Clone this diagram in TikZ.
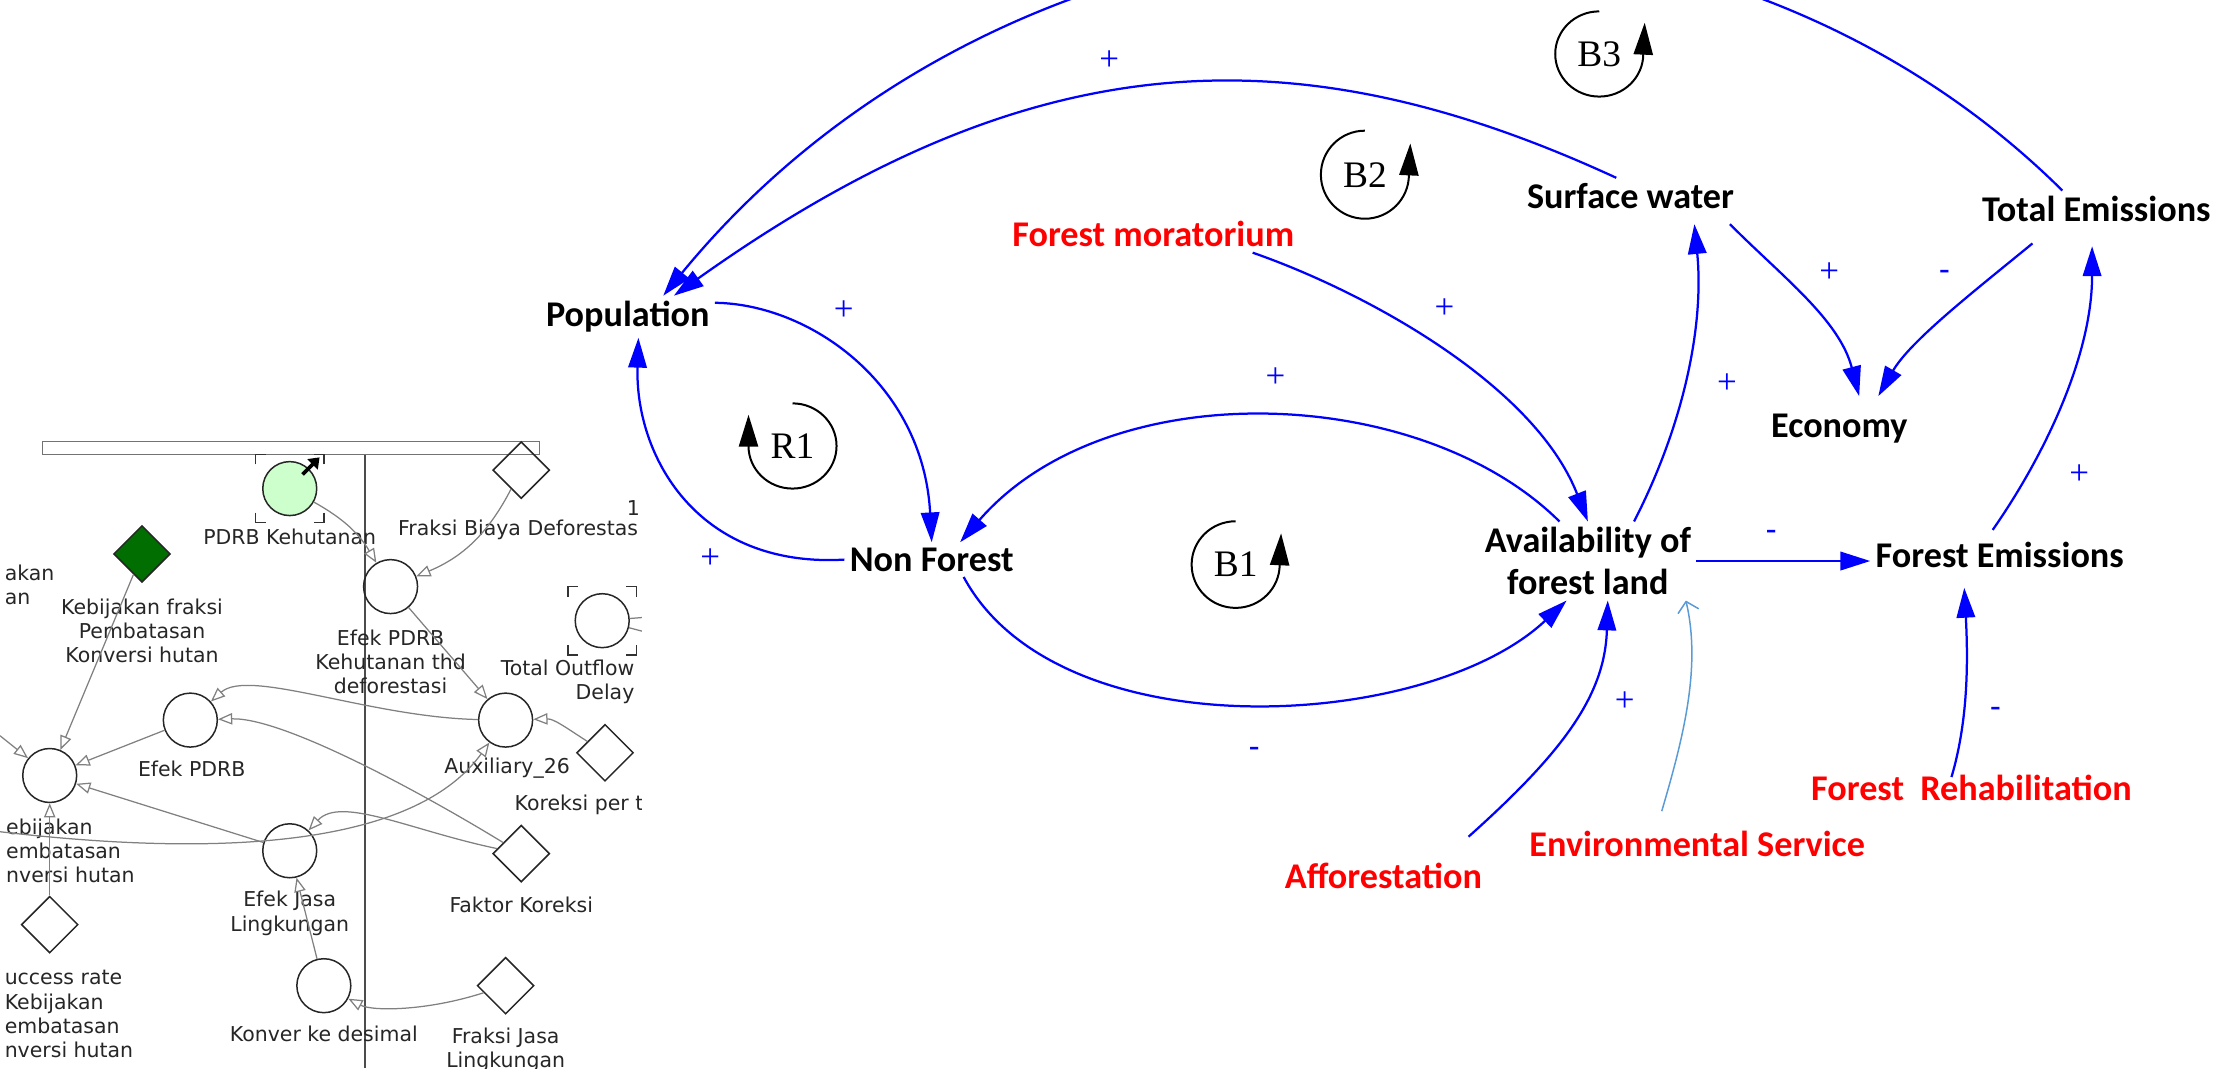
\documentclass[tikz,border=0pt]{standalone}
\usepackage{fontspec}
\usetikzlibrary{arrows.meta,shapes.geometric}
\newfontfamily\carlito{Carlito}
\newfontfamily\timesr{Liberation Serif}
\newfontfamily\vensim{DejaVu Sans}
\definecolor{linkblue}{RGB}{0,0,255}
\definecolor{envblue}{HTML}{5B9BD5}
\definecolor{vgreen}{HTML}{CCFFCC}
\definecolor{vdgreen}{HTML}{006E00}
\tikzset{
  cvar/.style={font=\carlito\bfseries\fontsize{14.5}{17}\selectfont, align=center, inner sep=2pt},
  exovar/.style={cvar, text=red},
  cldlink/.style={linkblue, line width=0.9pt, -{Triangle[length=0.42cm,width=0.26cm]}},
  envlink/.style={envblue, line width=0.6pt, -{Straight Barb[length=0.14cm,width=0.3cm]}},
  polsign/.style={text=linkblue, inner sep=0pt, font=\timesr\fontsize{14}{14}\selectfont},
  polneg/.style={text=linkblue, inner sep=0pt, font=\carlito\fontsize{14}{14}\selectfont},
  loopmark/.style={line width=0.8pt, -{Triangle[length=0.45cm,width=0.27cm]}},
  looplbl/.style={font=\timesr\fontsize{15}{15}\selectfont, inner sep=0pt},
  vtext/.style={font=\vensim\fontsize{8.2}{9.7}\selectfont, align=center, inner sep=0pt, text=black!85},
  vaux/.style={circle, draw=black!85, line width=0.6pt, minimum size=0.76cm, inner sep=0pt},
  vconst/.style={diamond, draw=black!85, line width=0.6pt, minimum size=0.8cm, inner sep=0pt},
  vlink/.style={draw=black!50, line width=0.5pt, -{Triangle[open,length=0.2cm,width=0.16cm]}},
  vline/.style={draw=black!50, line width=0.5pt},
}
\begin{document}
\begin{tikzpicture}[x=0.02cm,y=0.02cm]
\useasboundingbox (0,0) rectangle (1568,-752);
\clip (0,0) rectangle (1568,-752);

% Vensim screenshot on the left
\begin{scope}
  \clip (0,-305) rectangle (452,-752);
  \draw[black!55, line width=0.6pt] (30,-320) rectangle (380,-311);
  \draw[black!70, line width=0.6pt] (257,-320) -- (257,-752);
  % variables
  \node[vaux, fill=vgreen] (pdrb) at (204,-344) {};
  \node[vconst] (fbd) at (367,-331) {};
  \node[vconst, fill=vdgreen] (kfp) at (100,-390) {};
  \node[vaux] (epkt) at (275,-413) {};
  \node[vaux] (tod) at (424,-437) {};
  \node[vaux] (epdrb) at (134,-507) {};
  \node[vaux] (aux26) at (356,-507) {};
  \node[vconst] (kor) at (426,-530) {};
  \node[vaux] (kbc) at (35,-546) {};
  \node[vaux] (ejl) at (204,-599) {};
  \node[vconst] (fk) at (367,-601) {};
  \node[vconst] (sr) at (35,-651) {};
  \node[vaux] (kd) at (228,-694) {};
  \node[vconst] (fjl) at (356,-694) {};
  % shadow brackets
  \foreach \c in {pdrb,tod}
    \foreach \sx/\sy in {1/1,1/-1,-1/1,-1/-1}
      \draw[black!80, line width=0.6pt, shift={(\c)}] (\sx*24,\sy*17) -- (\sx*24,\sy*24) -- (\sx*17,\sy*24);
  \draw[line width=1.5pt, -{Triangle[length=0.14cm,width=0.2cm]}] (pdrb.center) ++(9,10) -- ++(12,12);
  % labels
  \node[vtext] (tpdrb) at (204,-378) {PDRB Kehutanan};
  \node[vtext, anchor=west] (tfbd) at (280,-373) {Fraksi Biaya Deforestas};
  \node[vtext] (tone) at (446,-358) {1};
  \node[vtext] (tkfp) at (100,-444) {Kebijakan fraksi\\Pembatasan\\Konversi hutan};
  \node[vtext, align=left, anchor=west] (tkl) at (3,-412) {akan\\an};
  \node[vtext] (tepkt) at (275,-466) {Efek PDRB\\Kehutanan thd\\deforestasi};
  \node[vtext, align=right, anchor=east] (ttod) at (447,-480) {Total Outflow\\Delay};
  \node[vtext] (tepdrb) at (135,-541) {Efek PDRB};
  \node[vtext] (taux) at (357,-541) {Auxiliary\_26};
  \node[vtext, anchor=west] (tkor) at (362,-567) {Koreksi per t};
  \node[vtext, align=left, anchor=west] (tkbc) at (4,-599) {ebijakan\\embatasan\\nversi hutan};
  \node[vtext] (tejl) at (204,-643) {Efek Jasa\\Lingkungan};
  \node[vtext] (tfk) at (367,-637) {Faktor Koreksi};
  \node[vtext, align=left, anchor=west] (tsr) at (3,-714) {uccess rate\\Kebijakan\\embatasan\\nversi hutan};
  \node[vtext] (tkd) at (228,-728) {Konver ke desimal};
  \node[vtext] (tfjl) at (356,-739) {Fraksi Jasa\\Lingkungan};
  % links
  \coordinate (lin) at (-5,-585);
  \coordinate (lin2) at (0,-518);
  \coordinate (tout1) at (462,-434);
  \coordinate (tout2) at (462,-447);
  \draw[vlink] (pdrb) to[bend left=15] (epkt);
  \draw[vlink] (fbd) to[bend left=20] (epkt);
  \draw[vlink] (epkt) -- (aux26);
  \draw[vlink] (aux26) .. controls (260,-505) and (175,-470) .. (epdrb);
  \draw[vlink] (fk) .. controls (300,-560) and (200,-505) .. (epdrb);
  \draw[vlink] (fk) .. controls (290,-585) and (240,-560) .. (ejl);
  \draw[vlink] (kor) .. controls (398,-512) and (390,-506) .. (aux26);
  \draw[vlink] (epdrb) -- (kbc);
  \draw[vlink] (kfp) -- (kbc);
  \draw[vlink] (ejl) -- (kbc);
  \draw[vlink] (lin) .. controls (120,-600) and (285,-605) .. (aux26);
  \draw[vlink] (sr) -- (kbc);
  \draw[vlink] (lin2) -- (kbc);
  \draw[vlink] (kd) -- (ejl);
  \draw[vlink] (fjl) .. controls (300,-712) and (262,-712) .. (kd);
  \draw[vline] (tod) -- (tout1);
  \draw[vline] (tod) -- (tout2);
\end{scope}

% Causal loop diagram
\node[cvar] (pop) at (442,-223) {Population};
\node[cvar] (nonf) at (656,-394) {Non Forest};
\node[cvar] (avail) at (1118,-395) {Availability of\\forest land};
\node[cvar] (femi) at (1408,-391) {Forest Emissions};
\node[cvar] (econ) at (1295,-302) {Economy};
\node[cvar] (surf) at (1148,-138) {Surface water};
\node[cvar] (tot) at (1476,-147) {Total Emissions};
\node[exovar] (mora) at (812,-165) {Forest moratorium};
\node[exovar] (affo) at (974,-617) {Afforestation};
\node[exovar] (envs) at (1195,-594) {Environmental Service};
\node[exovar] (rehab) at (1388,-555) {Forest\ \ Rehabilitation};

\draw[cldlink] ([xshift=-0.48cm]tot.north) .. controls (1192,124) and (720,100) .. ([xshift=0.5cm]pop.north);
\draw[cldlink] ([xshift=-0.2cm]surf.north) .. controls (910,-20) and (725,-30) .. ([xshift=0.65cm]pop.north);
\draw[cldlink] ([yshift=-0.1cm]pop.north east) .. controls (570,-214) and (650,-270) .. (nonf.north);
\draw[cldlink] (nonf.west) .. controls (490,-400) and (447,-320) .. ([xshift=0.15cm]pop.south);
\draw[cldlink] ([xshift=-0.4cm]avail.north) .. controls (1000,-270) and (780,-262) .. ([xshift=0.4cm]nonf.north);
\draw[cldlink] ([xshift=0.45cm]nonf.south) .. controls (745,-530) and (1005,-515) .. ([xshift=-0.3cm]avail.south);
\draw[cldlink] ([xshift=1.4cm]mora.south) .. controls (960,-205) and (1080,-270) .. (avail.north);
\draw[cldlink] ([xshift=0.65cm]avail.north) .. controls (1185,-300) and (1200,-230) .. ([xshift=0.9cm,yshift=-0.14cm]surf.south);
\draw[cldlink] ([xshift=1.4cm,yshift=-0.14cm]surf.south) .. controls (1255,-195) and (1295,-225) .. ([xshift=0.28cm,yshift=0.18cm]econ.north);
\draw[cldlink] ([xshift=-0.9cm,yshift=-0.23cm]tot.south) .. controls (1390,-205) and (1345,-240) .. ([xshift=0.55cm,yshift=0.18cm]econ.north);
\draw[cldlink] ([xshift=-0.1cm,yshift=0.1cm]femi.north) .. controls (1440,-320) and (1473,-250) .. ([xshift=-0.06cm,yshift=-0.27cm]tot.south);
\draw[cldlink] (avail.east) -- (avail.east -| femi.west);
\draw[cldlink] ([xshift=1.2cm,yshift=0.3cm]affo.north) .. controls (1100,-530) and (1130,-490) .. ([xshift=0.28cm]avail.south);
\draw[envlink] ([xshift=-0.5cm,yshift=0.2cm]envs.north) .. controls (1185,-520) and (1198,-470) .. ([xshift=1.38cm]avail.south);
\draw[cldlink] ([xshift=-0.28cm,yshift=-0.1cm]rehab.north) .. controls (1385,-510) and (1386,-470) .. ([xshift=-0.5cm,yshift=-0.2cm]femi.south);

% polarities
\node[polsign] (s1) at (781,-43) {+};
\node[polsign] (s2) at (594,-219) {+};
\node[polsign] (s3) at (500,-393) {+};
\node[polsign] (s4) at (1017,-217) {+};
\node[polsign] (s5) at (898,-266) {+};
\node[polsign] (s6) at (1216,-270) {+};
\node[polsign] (s7) at (1288,-192) {+};
\node[polneg] (s8) at (1369,-194) {-};
\node[polneg] (s9) at (1247,-377) {-};
\node[polsign] (s10) at (1464,-334) {+};
\node[polsign] (s11) at (1144,-494) {+};
\node[polneg] (s12) at (1405,-502) {-};
\node[polneg] (s13) at (883,-530) {-};

% loop markers
\draw[loopmark] (1126,-8) arc[start angle=90, end angle=360, x radius=0.62cm, y radius=0.6cm] -- ++(1,22);
\node[looplbl] (lb3) at (1126,-38) {B3};
\draw[loopmark] (961,-92) arc[start angle=90, end angle=360, x radius=0.62cm, y radius=0.62cm] -- ++(1,22);
\node[looplbl] (lb2) at (961,-123) {B2};
\draw[loopmark] (870,-367) arc[start angle=90, end angle=360, x radius=0.62cm, y radius=0.61cm] -- ++(1,22);
\node[looplbl] (lb1) at (870,-397) {B1};
\draw[loopmark] (558,-284) arc[start angle=90, end angle=-180, x radius=0.62cm, y radius=0.6cm] -- ++(0,22);
\node[looplbl] (lr1) at (558,-314) {R1};
\end{tikzpicture}
\end{document}
